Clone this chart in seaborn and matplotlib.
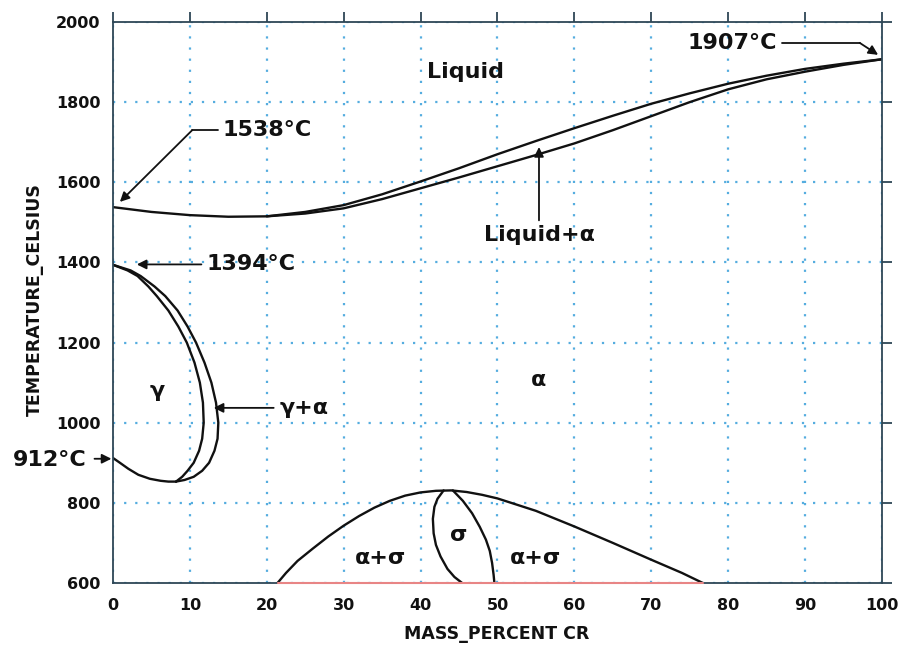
import matplotlib
matplotlib.use("Agg")
import pandas as pd
import seaborn as sns
import matplotlib.pyplot as plt

# Fe-Cr phase diagram (mass % Cr, deg C)
liq_cr = [0, 5, 10, 15, 20, 25, 30, 35, 40, 45, 50, 55, 60, 65, 70, 75, 80, 85, 90, 95, 100]
liq_t = [1538, 1526, 1518, 1514, 1515, 1526, 1543, 1570, 1602, 1635, 1670, 1703, 1735, 1766, 1796,
         1822, 1846, 1866, 1883, 1896, 1907]
sol_cr = [20, 25, 30, 35, 40, 45, 50, 55, 60, 65, 70, 75, 80, 85, 90, 95, 100]
sol_t = [1515, 1522, 1535, 1558, 1585, 1612, 1640, 1668, 1697, 1730, 1765, 1800, 1832, 1857, 1876,
         1893, 1907]

# gamma loop
gam_out_t = [1394, 1380, 1366, 1340, 1316, 1280, 1240, 1200, 1150, 1100, 1050, 1000, 960, 930, 900,
             880, 865, 857, 853]
gam_out_cr = [0, 2.3, 3.6, 5.4, 6.8, 8.4, 9.7, 10.8, 11.9, 12.8, 13.4, 13.7, 13.6, 13.2, 12.5,
              11.6, 10.5, 9.3, 8.2]
gam_in_t = [1394, 1380, 1366, 1340, 1316, 1280, 1240, 1200, 1150, 1100, 1050, 1000, 960, 930, 900,
            880, 865, 853]
gam_in_cr = [0, 1.9, 3.2, 4.6, 5.7, 7.2, 8.5, 9.6, 10.6, 11.3, 11.7, 11.8, 11.6, 11.2, 10.5,
             9.7, 9.0, 8.2]
gam_low_cr = [0, 0.9, 2.0, 3.3, 4.8, 6.2, 7.2, 8.2]
gam_low_t = [912, 900, 885, 870, 860, 855, 853, 853]

# sigma phase
sig_dome_cr = [21.4, 22.5, 24, 26, 28, 30, 32, 34, 36, 38, 40, 42, 44, 46, 48, 50, 55, 60, 65, 70,
               74, 76.7]
sig_dome_t = [600, 625, 655, 686, 716, 743, 767, 788, 805, 818, 826, 830, 831, 827, 820, 811, 780,
              741, 700, 658, 625, 600]
sig_left_cr = [43.0, 42.2, 41.8, 41.6, 41.7, 42.0, 42.6, 43.5, 44.4, 45.4]
sig_left_t = [831, 810, 790, 760, 724, 695, 666, 635, 615, 600]
sig_right_cr = [44.2, 45.5, 46.7, 47.7, 48.5, 49.0, 49.3, 49.5, 49.6]
sig_right_t = [831, 805, 774, 740, 708, 680, 650, 620, 600]

x_ticks = list(range(0, 101, 10))
y_ticks = list(range(600, 2001, 200))

sns.set_theme(style="white")
plt.rcParams['font.family'] = ['DejaVu Sans']
plt.rcParams['font.weight'] = 'bold'

spine_col = '#2e4756'
grid_col = '#55addf'

fig = plt.figure(figsize=(9.03, 6.51), dpi=100)
ax = fig.add_axes([0.1251, 0.1045, 0.8516, 0.8617])

curves = [(liq_cr, liq_t), (sol_cr, sol_t),
          (gam_out_cr, gam_out_t), (gam_in_cr, gam_in_t), (gam_low_cr, gam_low_t),
          (sig_dome_cr, sig_dome_t), (sig_left_cr, sig_left_t), (sig_right_cr, sig_right_t)]
for cx, ct in curves:
    df = pd.DataFrame({'cr': cx, 't': ct})
    sns.lineplot(data=df, x='cr', y='t', sort=False, estimator=None, color='#111111',
                 linewidth=1.7, ax=ax)

# 600 C isotherm under the sigma dome (reddish in the reference)
ax.plot([sig_dome_cr[0], sig_dome_cr[-1]], [600, 600], color='#e88585', lw=1.5, zorder=5,
        clip_on=False)

ax.set_xlim(0, 100)
ax.set_ylim(600, 2000)
ax.set_xticks(x_ticks)
ax.set_yticks(y_ticks)
ax.grid(True, color=grid_col, linestyle=(0, (1, 4)), linewidth=1.6)
ax.set_axisbelow(True)
for s in ax.spines.values():
    s.set_color(spine_col)
    s.set_linewidth(1.3)
ax.tick_params(direction='out', length=7, width=1.3, color=spine_col, top=True, right=True,
               labelsize=11.5, labelcolor='#111111')
ax.tick_params(axis='x', pad=4)
ax.tick_params(axis='y', pad=2)

ax.set_xlabel('MASS_PERCENT CR', fontsize=12.5, fontweight='bold', color='#111111', va='center')
ax.xaxis.set_label_coords(0.4995, -0.091)
ax.set_ylabel('TEMPERATURE_CELSIUS', fontsize=12.5, fontweight='bold', color='#111111',
              va='center')
ax.yaxis.set_label_coords(-0.101, 0.505)

tk = dict(fontsize=16, fontweight='bold', color='#111111', ha='center', va='center')
arr = dict(arrowstyle='-|>', color='#111111', lw=1.3, mutation_scale=14, shrinkA=0, shrinkB=0)

ax.text(45.8, 1875, 'Liquid', **tk)
ax.text(5.7, 1080, 'γ', **tk)
ax.text(55.4, 1107, 'α', **tk)
ax.text(34.8, 662, 'α+σ', **tk)
ax.text(44.9, 720, 'σ', **tk)
ax.text(55.0, 662, 'α+σ', **tk)

# 1538 C
ax.text(20.0, 1730, '1538°C', **tk)
ax.plot([13.6, 10.3], [1730, 1730], color='#111111', lw=1.3)
ax.annotate('', xy=(0.9, 1551), xytext=(10.3, 1730), arrowprops=arr)
# 1394 C
ax.text(17.9, 1395, '1394°C', **tk)
ax.annotate('', xy=(3.1, 1395), xytext=(11.5, 1395), arrowprops=arr)
# gamma + alpha
ax.text(24.9, 1037, 'γ+α', **tk)
ax.annotate('', xy=(13.1, 1037), xytext=(20.9, 1037), arrowprops=arr)
# 912 C
ax.text(-8.2, 907, '912°C', **tk)
ax.annotate('', xy=(-0.2, 910), xytext=(-2.4, 910), arrowprops=arr, annotation_clip=False)
# liquid + alpha
ax.text(55.5, 1468, 'Liquid+α', **tk)
ax.annotate('', xy=(55.4, 1688), xytext=(55.4, 1505), arrowprops=arr)
# 1907 C
ax.text(80.5, 1948, '1907°C', **tk)
ax.plot([87.0, 97.1], [1948, 1948], color='#111111', lw=1.3)
ax.annotate('', xy=(99.5, 1918), xytext=(97.1, 1948), arrowprops=arr)

fig.savefig('out.png', dpi=100)
